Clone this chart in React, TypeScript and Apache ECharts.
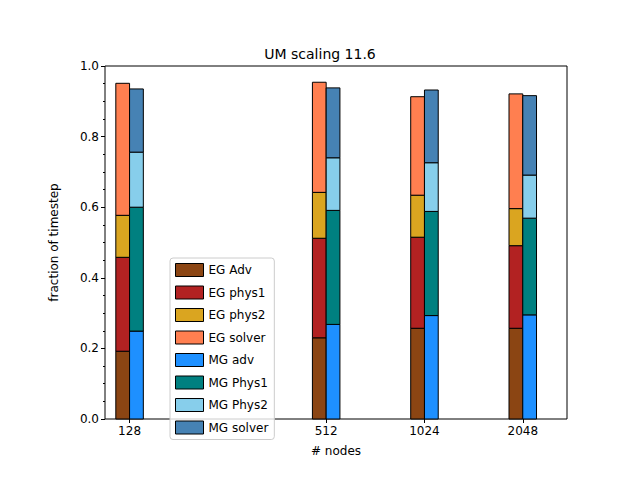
import React, { useEffect, useRef } from "react";
import * as echarts from "echarts";

const nodes = [128, 512, 1024, 2048];
const egAdv = [0.192, 0.23, 0.257, 0.257];
const egPhys1 = [0.266, 0.282, 0.258, 0.234];
const egPhys2 = [0.119, 0.13, 0.119, 0.105];
const egSolver = [0.374, 0.312, 0.279, 0.325];
const mgAdv = [0.249, 0.268, 0.293, 0.295];
const mgPhys1 = [0.351, 0.323, 0.295, 0.274];
const mgPhys2 = [0.156, 0.149, 0.138, 0.122];
const mgSolver = [0.179, 0.198, 0.206, 0.225];

const W = 0.14;

export default function App() {
  const ref = useRef<HTMLDivElement>(null);
  useEffect(() => {
    const chart = echarts.init(ref.current!, null, { renderer: "svg" });
    const groups = [
      { names: ["EG Adv", "EG phys1", "EG phys2", "EG solver"], vals: [egAdv, egPhys1, egPhys2, egSolver], colors: ["#8B4513", "#B22222", "#DAA520", "#FF7F50"], off: -W / 2 },
      { names: ["MG adv", "MG Phys1", "MG Phys2", "MG solver"], vals: [mgAdv, mgPhys1, mgPhys2, mgSolver], colors: ["#1E90FF", "#008080", "#87CEEB", "#4682B4"], off: W / 2 },
    ];
    const series: any[] = [];
    groups.forEach((g) => {
      const base = nodes.map(() => 0);
      g.vals.forEach((vals, k) => {
        const data = nodes.map((n, i) => {
          const b = base[i];
          base[i] += vals[i];
          return [Math.log2(n) + g.off, b, base[i]];
        });
        series.push({
          type: "custom",
          name: g.names[k],
          itemStyle: { color: g.colors[k] },
          data,
          renderItem: (params: any, api: any) => {
            const x = api.value(0), b = api.value(1), t = api.value(2);
            const p0 = api.coord([x - W / 2, t]);
            const p1 = api.coord([x + W / 2, b]);
            return {
              type: "rect",
              shape: { x: p0[0], y: p0[1], width: p1[0] - p0[0], height: p1[1] - p0[1] },
              style: { fill: g.colors[k], stroke: "#000", lineWidth: 1 },
            };
          },
        });
      });
    });
    const names = [...groups[0].names, ...groups[1].names];
    chart.setOption({
      animation: false,
      title: { text: "UM scaling 11.6", left: "center", top: 34, textStyle: { fontFamily: "DejaVu Sans", fontSize: 14, fontWeight: "normal", color: "#000" } },
      grid: { left: 97, right: 65, top: 58, bottom: 53, show: true, borderColor: "#000", borderWidth: 1, backgroundColor: "transparent" },
      legend: {
        orient: "vertical", left: 162, top: 250, itemWidth: 28, itemHeight: 13, itemGap: 8.5,
        padding: [5, 6, 5, 5], borderColor: "#ccc", borderWidth: 1, borderRadius: 3, backgroundColor: "rgba(255,255,255,0.8)",
        data: names.map((n) => ({ name: n, icon: "rect", itemStyle: { borderColor: "#000", borderWidth: 1 } })),
        textStyle: { fontFamily: "DejaVu Sans", fontSize: 12, color: "#000" },
      },
      xAxis: {
        type: "value", min: 6.75, max: 11.45, name: "# nodes", nameLocation: "middle", nameGap: 26,
        nameTextStyle: { fontFamily: "DejaVu Sans", fontSize: 12, color: "#000" },
        axisLine: { show: false }, splitLine: { show: false },
        axisTick: { show: true, customValues: nodes.map((n) => Math.log2(n)), length: 4, lineStyle: { color: "#000" } },
        axisLabel: { customValues: nodes.map((n) => Math.log2(n)), formatter: (v: number) => String(Math.round(Math.pow(2, v))), fontFamily: "DejaVu Sans", fontSize: 12, color: "#000", margin: 6 },
      },
      yAxis: {
        type: "value", min: 0, max: 1, interval: 0.2, name: "fraction of timestep", nameLocation: "middle", nameGap: 45,
        nameTextStyle: { fontFamily: "DejaVu Sans", fontSize: 12, color: "#000" },
        axisLine: { show: false }, splitLine: { show: false },
        axisTick: { show: true, length: 4, lineStyle: { color: "#000" } },
        minorTick: { show: true, splitNumber: 4, length: 2, lineStyle: { color: "#000" } },
        axisLabel: { formatter: (v: number) => v.toFixed(1), fontFamily: "DejaVu Sans", fontSize: 12, color: "#000", margin: 6 },
      },
      series,
    });
    return () => chart.dispose();
  }, []);
  return <div ref={ref} style={{ width: 624, height: 464 }} />;
}
